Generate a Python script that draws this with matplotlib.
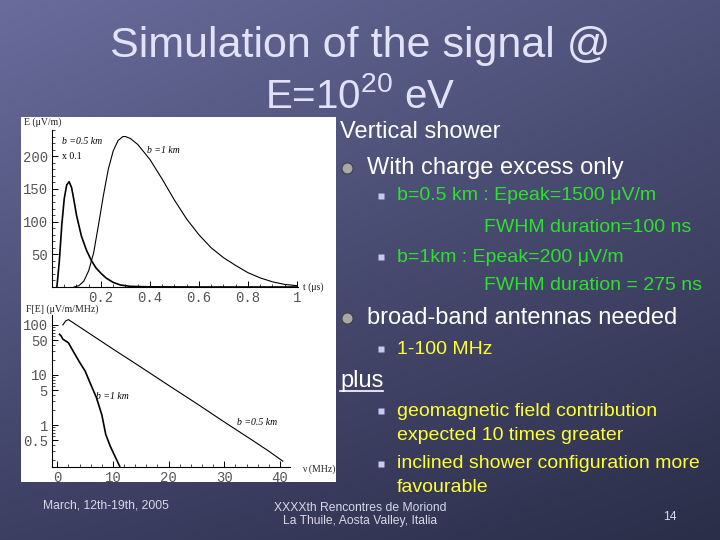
import numpy as np
import matplotlib
matplotlib.use("Agg")
import matplotlib.pyplot as plt
from matplotlib.patches import Rectangle
from matplotlib.ticker import MultipleLocator, FixedLocator, NullFormatter

plt.rcParams['font.family'] = ['Liberation Sans', 'DejaVu Sans']
plt.rcParams['mathtext.default'] = 'regular'

# time-domain pulse, E (uV/m) vs t (us)
t_b05 = [0.02, 0.03, 0.04, 0.05, 0.06, 0.07, 0.08, 0.09, 0.10, 0.12, 0.14, 0.16,
         0.18, 0.20, 0.22, 0.25, 0.28, 0.32, 0.40, 0.60, 1.0]
E_b05 = [0, 40, 95, 135, 156, 161, 152, 132, 110, 78, 57, 41,
         29, 21, 14, 7, 3, 1, 0.2, 0, 0]
t_b1 = [0.09, 0.11, 0.13, 0.15, 0.17, 0.19, 0.21, 0.23, 0.25, 0.27, 0.29, 0.30,
        0.32, 0.35, 0.40, 0.45, 0.50, 0.55, 0.60, 0.65, 0.70, 0.75, 0.80, 0.85,
        0.90, 0.95, 1.0]
E_b1 = [0, 2, 9, 25, 52, 95, 140, 180, 208, 224, 230, 230,
        227, 218, 195, 165, 133, 104, 80, 60, 45, 33, 22, 14,
        8, 4, 2]

# spectrum, F[E] (uV/m/MHz) vs nu (MHz)
nu_b05 = [1.0, 1.5, 2, 3, 5, 10, 15, 20, 25, 30, 35, 38, 40.5]
F_b05 = [100, 120, 128, 108, 77, 33, 14.4, 6.2, 2.7, 1.15, 0.50, 0.30, 0.19]
nu_b1 = [0.4, 0.7, 1, 2, 3, 4, 5, 6, 7, 8, 8.7, 9.5, 10.5, 11.2]
F_b1 = [65, 60, 52, 44, 28, 18, 12, 6.5, 3.6, 1.6, 0.65, 0.38, 0.22, 0.15]

fig = plt.figure(figsize=(7.2, 5.4), dpi=100)

# slide background
bg = fig.add_axes([0, 0, 1, 1])
yy, xx = np.mgrid[0:1:540j, 0:1:720j]
tl = np.array([0x6a, 0x6d, 0x9c]) / 255
tr = np.array([0x4f, 0x52, 0x7a]) / 255
bl = np.array([0x3c, 0x3f, 0x62]) / 255
br = np.array([0x2b, 0x2e, 0x48]) / 255
grad = ((1 - yy)[..., None] * ((1 - xx)[..., None] * tl + xx[..., None] * tr)
        + yy[..., None] * ((1 - xx)[..., None] * bl + xx[..., None] * br))
bg.imshow(grad, extent=[0, 720, 540, 0], aspect='auto')
bg.set_xlim(0, 720)
bg.set_ylim(540, 0)
bg.axis('off')

bg.add_patch(Rectangle((21, 117), 315, 365, facecolor='white', edgecolor='none'))

# title
title_col = '#e2e2f8'
bg.text(360, 46, 'Simulation of the signal @', ha='center', va='center',
        fontsize=31, color=title_col)
bg.text(360, 96, 'E=10$^{20}$ eV', ha='center', va='center',
        fontsize=29, color=title_col)

# bullet text
white = '#ffffff'
green = '#2ee02e'
yellow = '#ffff33'
bg.text(340, 132, 'Vertical shower', ha='left', va='center', fontsize=17, color=white)
bg.plot([347], [168], 'o', ms=8, color='#a8a8a8', mec='#404040', mew=0.8)
bg.text(367, 168, 'With charge excess only', ha='left', va='center', fontsize=17, color=white)
for y in [196, 257]:
    bg.plot([381], [y], 's', ms=4.5, color='#c8c8f0', mec='none')
bg.text(397, 196, 'b=0.5 km : Epeak=1500 μV/m', ha='left', va='center', fontsize=14, color=green)
bg.text(484, 227, 'FWHM duration=100 ns', ha='left', va='center', fontsize=14, color=green)
bg.text(397, 257, 'b=1km : Epeak=200 μV/m', ha='left', va='center', fontsize=14, color=green)
bg.text(484, 285, 'FWHM duration = 275 ns', ha='left', va='center', fontsize=14, color=green)

bg.plot([347], [318], 'o', ms=8, color='#a8a8a8', mec='#404040', mew=0.8)
bg.text(367, 318, 'broad-band antennas needed', ha='left', va='center', fontsize=17, color=white)
bg.plot([381], [349], 's', ms=4.5, color='#c8c8f0', mec='none')
bg.text(397, 349, '1-100 MHz', ha='left', va='center', fontsize=14, color=yellow)
bg.text(340, 381, 'plus', ha='left', va='center', fontsize=17, color=white)
bg.plot([340, 383], [391, 391], color=white, lw=1.2)
for y in [411, 464]:
    bg.plot([381], [y], 's', ms=4.5, color='#c8c8f0', mec='none')
bg.text(397, 411, 'geomagnetic field contribution', ha='left', va='center', fontsize=14, color=yellow)
bg.text(397, 435, 'expected 10 times greater', ha='left', va='center', fontsize=14, color=yellow)
bg.text(397, 464, 'inclined shower configuration more', ha='left', va='center', fontsize=14, color=yellow)
bg.text(397, 488, 'favourable', ha='left', va='center', fontsize=14, color=yellow)

# footer
foot = '#d8d8e8'
bg.text(43, 505, 'March, 12th-19th, 2005', ha='left', va='center', fontsize=8.7, color=foot)
bg.text(360, 508, 'XXXXth Rencontres de Moriond', ha='center', va='center', fontsize=8.7, color=foot)
bg.text(360, 521, 'La Thuile, Aosta Valley, Italia', ha='center', va='center', fontsize=8.7, color=foot)
bg.text(670, 517, '14', ha='center', va='center', fontsize=8.7, color=foot)

# axis captions of the scanned plots
serif = 'Liberation Serif'
bg.text(24, 122, 'E (μV/m)', fontsize=7, family=serif, va='center', color='#222')
bg.text(303, 287, 't (μs)', fontsize=7, family=serif, va='center', color='#222')
bg.text(26, 309, 'F[E] (μV/m/MHz)', fontsize=7, family=serif, va='center', color='#222')
bg.text(302, 469, 'ν (MHz)', fontsize=7, family=serif, va='center', color='#222')

tick_font = dict(family='Liberation Mono', size=10)

# top: time pulse
ax1 = fig.add_axes([52 / 720, 1 - 287 / 540, 246 / 720, 157 / 540])
ax1.set_facecolor('none')
ax1.plot(t_b05, E_b05, color='black', lw=1.2)
ax1.plot(t_b1, E_b1, color='black', lw=0.8)
ax1.set_xlim(0, 1.005)
ax1.set_ylim(0, 240)
ax1.xaxis.set_major_locator(FixedLocator([0.2, 0.4, 0.6, 0.8, 1.0]))
ax1.set_xticklabels(['0.2', '0.4', '0.6', '0.8', '1'])
ax1.yaxis.set_major_locator(FixedLocator([50, 100, 150, 200]))
ax1.xaxis.set_minor_locator(MultipleLocator(0.05))
ax1.yaxis.set_minor_locator(MultipleLocator(10))
ax1.text(0.04, 222, 'b =0.5 km', fontsize=7, family=serif, style='italic', va='center')
ax1.text(0.04, 200, 'x 0.1', fontsize=7, family=serif, va='center')
ax1.text(0.39, 208, 'b =1 km', fontsize=7, family=serif, style='italic', va='center')

# bottom: spectrum
ax2 = fig.add_axes([52 / 720, 1 - 467 / 540, 238 / 720, 152 / 540])
ax2.set_facecolor('none')
ax2.plot(nu_b05, F_b05, color='black', lw=0.8)
ax2.plot(nu_b1, F_b1, color='black', lw=1.2)
ax2.set_yscale('log')
ax2.set_xlim(-0.95, 41.8)
ax2.set_ylim(0.145, 158)
ax2.xaxis.set_major_locator(FixedLocator([0, 10, 20, 30, 40]))
ax2.xaxis.set_minor_locator(MultipleLocator(2))
ax2.yaxis.set_major_locator(FixedLocator([0.5, 1, 5, 10, 50, 100]))
ax2.set_yticklabels(['0.5', '1', '5', '10', '50', '100'])
minors = [m * d for d in (0.1, 1, 10) for m in range(2, 10)]
ax2.yaxis.set_minor_locator(FixedLocator(minors))
ax2.yaxis.set_minor_formatter(NullFormatter())
ax2.text(7.0, 3.7, 'b =1 km', fontsize=7, family=serif, style='italic', va='center')
ax2.text(32.3, 1.1, 'b =0.5 km', fontsize=7, family=serif, style='italic', va='center')

for ax in (ax1, ax2):
    for s in ('top', 'right'):
        ax.spines[s].set_visible(False)
    ax.spines['left'].set_linewidth(0.8)
    ax.spines['bottom'].set_linewidth(0.8)
    ax.tick_params(which='major', direction='in', length=4, width=0.7, pad=3,
                   labelcolor='#555')
    ax.tick_params(which='minor', direction='in', length=2, width=0.5)
    for lab in ax.get_xticklabels() + ax.get_yticklabels():
        lab.set_fontfamily(tick_font['family'])
        lab.set_fontsize(tick_font['size'])

fig.savefig('out.png', dpi=100)
